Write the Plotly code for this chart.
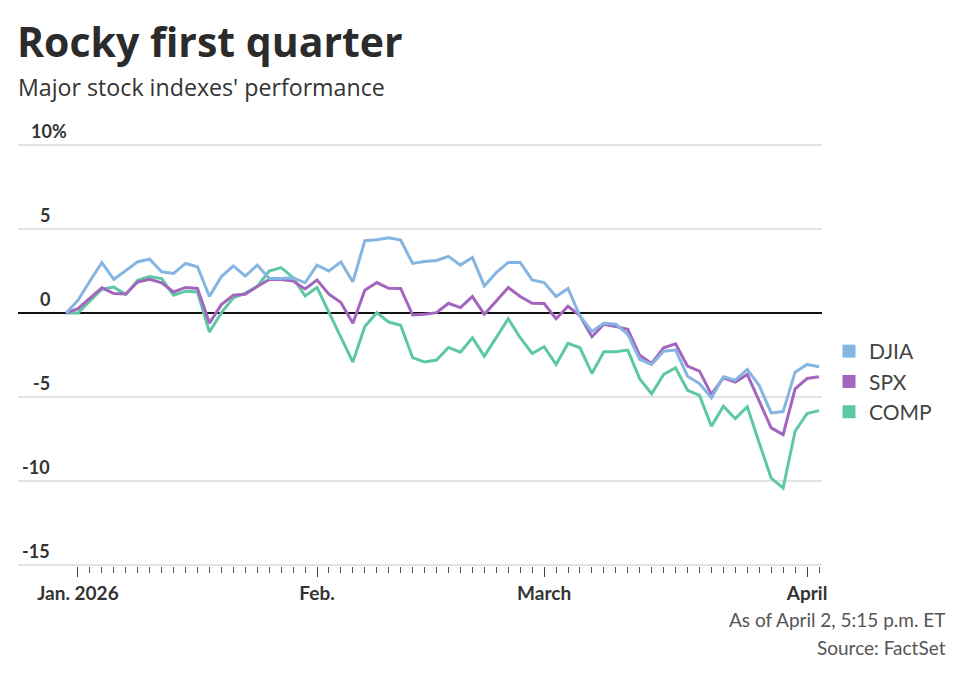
import plotly.graph_objects as go

# ---------------- data ----------------
BASE_DATE = "2025-12-31"
JAN_DAYS = [2, 5, 6, 7, 8, 9, 12, 13, 14, 15, 16, 20, 21, 22, 23, 26, 27, 28, 29, 30]
FEB_DAYS = [2, 3, 4, 5, 6, 9, 10, 11, 12, 13, 17, 18, 19, 20, 23, 24, 25, 26, 27]
MAR_DAYS = [2, 3, 4, 5, 6, 9, 10, 11, 12, 13, 16, 17, 18, 19, 20, 23, 24, 25, 26, 27, 30, 31]
APR_DAYS = [1, 2]
MONTH_LABELS = ["Jan. 2026", "Feb.", "March", "April"]

DJIA = [0, 0.76, 1.9, 3.0, 2.0, 2.55, 3.05, 3.2, 2.45, 2.35, 2.95, 2.75, 0.98, 2.17, 2.8, 2.2,
        2.85, 2.05, 2.05, 2.1, 1.8, 2.85, 2.5, 3.04, 1.85, 4.3, 4.36, 4.48, 4.34, 2.95, 3.07,
        3.13, 3.37, 2.85, 3.31, 1.61, 2.41, 3.01, 3.01, 1.97, 1.81, 0.98, 1.46, -0.18, -1.1,
        -0.61, -0.67, -1.27, -2.76, -3.06, -2.27, -2.21, -3.76, -4.2, -5.05, -3.8, -4.0, -3.36,
        -4.32, -5.95, -5.87, -3.52, -3.06, -3.2]
SPX = [0, 0.26, 0.88, 1.5, 1.16, 1.13, 1.85, 2.0, 1.8, 1.25, 1.52, 1.46, -0.6, 0.5, 1.06, 1.12,
       1.58, 2.0, 2.0, 1.9, 1.43, 1.96, 1.12, 0.62, -0.61, 1.35, 1.81, 1.47, 1.46, -0.12, -0.08,
       0.02, 0.58, 0.32, 0.98, -0.08, 0.72, 1.52, 0.98, 0.58, 0.56, -0.34, 0.4, -0.16, -1.41,
       -0.67, -0.81, -0.97, -2.52, -3.0, -2.07, -1.83, -3.16, -3.46, -4.85, -3.86, -4.12, -3.66,
       -5.25, -6.84, -7.24, -4.51, -3.9, -3.8]
COMP = [0, 0.0, 0.72, 1.42, 1.54, 1.1, 1.94, 2.17, 2.05, 1.06, 1.3, 1.25, -1.13, 0.02, 0.9, 1.18,
        1.58, 2.5, 2.7, 2.1, 1.02, 1.52, 0.04, -1.45, -2.92, -0.81, 0.02, -0.54, -0.73, -2.66,
        -2.92, -2.8, -2.05, -2.33, -1.47, -2.57, -1.47, -0.34, -1.47, -2.41, -2.01, -3.06, -1.81,
        -2.07, -3.6, -2.3, -2.3, -2.21, -3.92, -4.81, -3.66, -3.26, -4.6, -4.91, -6.74, -5.55,
        -6.29, -5.58, -7.74, -9.83, -10.42, -7.04, -5.99, -5.81]

Y_TICKS = [10, 5, 0, -5, -10, -15]
Y_LABELS = ["10%", "5", "0", "-5", "-10", "-15"]

# ---------------- derived ----------------
dates = ([BASE_DATE]
         + [f"2026-01-{d:02d}" for d in JAN_DAYS]
         + [f"2026-02-{d:02d}" for d in FEB_DAYS]
         + [f"2026-03-{d:02d}" for d in MAR_DAYS]
         + [f"2026-04-{d:02d}" for d in APR_DAYS])
idx = list(range(len(dates)))
month_starts = [i for i in idx[1:] if dates[i][:7] != dates[i - 1][:7]]
minor_ticks = [i for i in idx[1:] if i not in month_starts]

series = [("COMP", COMP, "#5ec8a5"), ("SPX", SPX, "#a366bf"), ("DJIA", DJIA, "#85b5e2")]
legend_order = ["DJIA", "SPX", "COMP"]
colors = {n: c for n, _, c in series}

FONT = "Lato, 'Open Sans', sans-serif"
HEAD_FONT = "'Open Sans', Lato, sans-serif"
DARK = "#333333"

fig = go.Figure()
for name, vals, col in series:
    fig.add_trace(go.Scatter(
        x=idx, y=vals, mode="lines", name=name, showlegend=False,
        line=dict(color=col, width=3),
        customdata=dates,
        hovertemplate="%{customdata}<br>" + name + ": %{y:.2f}%<extra></extra>",
    ))
for name in legend_order:
    fig.add_trace(go.Scatter(
        x=[None], y=[None], mode="markers", name=name, legendgroup=name,
        marker=dict(symbol="square", size=13, color=colors[name]),
    ))

W, H = 968, 679
EXT = 0.06
L, R, T, B = 18, 146, 144, 113
PW, PH = W - L - R, H - T - B


def px_x(px):
    return (px - L) / PW


def px_y(py):
    return (H - B - py) / PH


annotations = []
for v, lab in zip(Y_TICKS, Y_LABELS):
    if lab.endswith("%"):
        annotations.append(dict(x=px_x(29), y=v, xref="paper", yref="y", text=lab,
                                xanchor="left", yanchor="middle", yshift=14, showarrow=False,
                                font=dict(family=FONT, size=18, color=DARK, weight="bold")))
    else:
        annotations.append(dict(x=px_x(52), y=v, xref="paper", yref="y", text=lab,
                                xanchor="right", yanchor="middle", yshift=14, showarrow=False,
                                font=dict(family=FONT, size=18, color=DARK, weight="bold")))

annotations += [
    dict(x=px_x(15), y=px_y(41), xref="paper", yref="paper", text="<b>Rocky first quarter</b>",
         xanchor="left", yanchor="middle", showarrow=False,
         font=dict(family=HEAD_FONT, size=41, color="#2b2b2b")),
    dict(x=px_x(16), y=px_y(86.5), xref="paper", yref="paper", text="Major stock indexes' performance",
         xanchor="left", yanchor="middle", showarrow=False,
         font=dict(family=HEAD_FONT, size=23.2, color=DARK)),
    dict(x=px_x(948), y=px_y(619), xref="paper", yref="paper", text="As of April 2, 5:15 p.m. ET",
         xanchor="right", yanchor="middle", showarrow=False,
         font=dict(family=FONT, size=19, color="#555555")),
    dict(x=px_x(948), y=px_y(647), xref="paper", yref="paper", text="Source: FactSet",
         xanchor="right", yanchor="middle", showarrow=False,
         font=dict(family=FONT, size=19, color="#555555")),
]

fig.update_layout(
    width=W, height=H,
    margin=dict(l=L, r=R, t=T, b=B, pad=0),
    paper_bgcolor="white", plot_bgcolor="white",
    font=dict(family=FONT, color=DARK),
    hovermode="closest",
    annotations=annotations,
    legend=dict(x=px_x(829), y=px_y(331), xanchor="left", yanchor="top",
                font=dict(family=FONT, size=21, color="#444444"),
                tracegroupgap=0, bgcolor="rgba(0,0,0,0)", borderwidth=0),
    xaxis=dict(
        range=[-48 / 11.95, 63 + 3 / 11.95],
        showgrid=False, zeroline=False, showline=False,
        tickmode="array", tickvals=month_starts, ticktext=MONTH_LABELS,
        ticks="outside", ticklen=10, tickwidth=1, tickcolor="#444444",
        tickfont=dict(family=FONT, size=19, color=DARK, weight="bold"),
        minor=dict(tickmode="array", tickvals=minor_ticks, ticks="outside",
                   ticklen=6, tickwidth=1, tickcolor="#555555", showgrid=False),
        fixedrange=True,
    ),
    yaxis=dict(
        range=[Y_TICKS[-1] - EXT, Y_TICKS[0] + EXT],
        tickmode="array", tickvals=Y_TICKS, showticklabels=False,
        showgrid=True, gridcolor="#e3e3e3", gridwidth=1.5,
        zeroline=True, zerolinecolor="#111111", zerolinewidth=1.5,
        showline=False, ticks="", fixedrange=True,
    ),
)

fig.write_html("out.html", config={"displayModeBar": False},
               post_script="document.body.style.margin='0';")
